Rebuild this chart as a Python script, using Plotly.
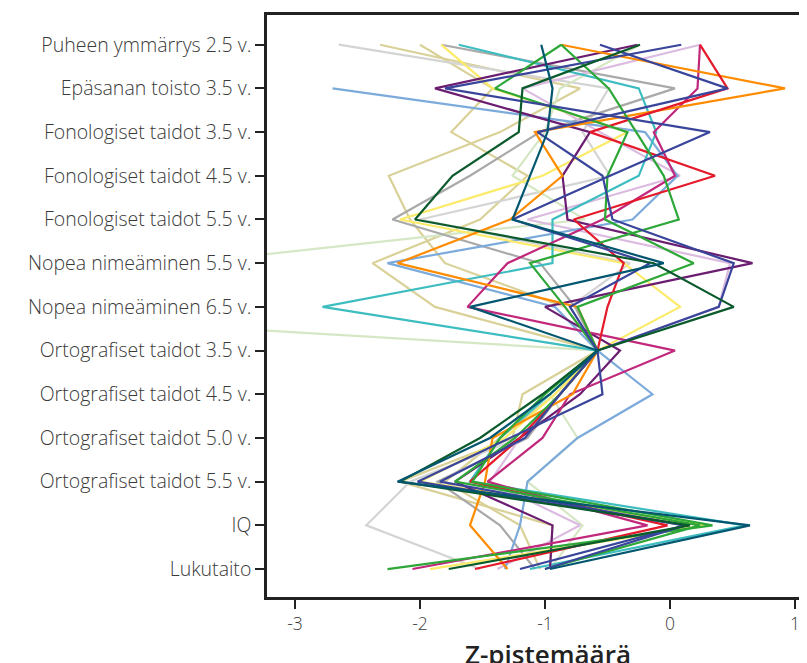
import plotly.graph_objects as go

categories = [
    "Puheen ymmärrys 2.5 v.", "Epäsanan toisto 3.5 v.", "Fonologiset taidot 3.5 v.",
    "Fonologiset taidot 4.5 v.", "Fonologiset taidot 5.5 v.", "Nopea nimeäminen 5.5 v.",
    "Nopea nimeäminen 6.5 v.", "Ortografiset taidot 3.5 v.", "Ortografiset taidot 4.5 v.",
    "Ortografiset taidot 5.0 v.", "Ortografiset taidot 5.5 v.", "IQ", "Lukutaito",
]
x_ticks = [-3, -2, -1, 0, 1]

khaki_1 = [-2.32, -0.72, -1.36, -2.25, -2.08, -1.80, -0.84, -0.58, -1.18, -1.26, -2.16, -0.94, -0.96]
khaki_2 = [-2.00, -1.42, -1.75, -1.14, -1.52, -2.38, -1.88, -0.58, -0.92, -1.36, -1.80, -1.20, -1.04]
light_grey = [-2.65, -0.49, -0.70, -0.48, -2.00, -0.32, -0.80, -0.58, -0.88, -1.20, -2.08, -2.43, -1.52]
light_green = [-0.24, -0.88, -1.00, -1.26, -0.68, -3.88, -6.40, -0.56, -0.96, -0.74, -1.14, -0.70, -0.96]
grey = [-1.83, 0.04, -1.04, -1.60, -2.22, -1.04, -0.76, -0.58, -0.88, -1.14, -1.86, -1.36, -1.08]
lilac = [0.24, -1.18, -0.56, 0.08, -1.14, 0.48, 0.39, -0.58, -0.88, -1.20, -1.44, -0.72, -1.38]
light_blue = [None, -2.70, -0.20, 0.06, -0.30, -2.26, -0.92, -0.58, -0.14, -0.74, -1.14, -1.20, -1.32]
yellow = [-1.83, -1.42, -0.34, -1.02, -2.16, -0.37, 0.08, -0.58, -0.92, -1.32, -2.00, 0.28, -1.92]
cyan = [-1.69, -0.25, -0.11, -0.25, -0.94, -0.94, -2.78, -0.58, -0.96, -1.36, -1.60, 0.60, -1.12]
purple = [-0.26, -1.88, -0.64, -0.86, -0.82, 0.66, -1.00, -0.40, -0.72, -1.20, -1.72, -0.94, -0.96]
magenta = [0.24, 0.22, -0.13, 0.04, -0.54, -1.30, -1.62, 0.04, -0.80, -1.02, -1.46, -0.18, -2.06]
orange = [-0.87, 0.92, -1.08, -0.86, -1.28, -2.18, -0.74, -0.58, -0.78, -1.42, -1.48, -1.60, -1.30]
red = [0.24, 0.46, -0.64, 0.36, -0.77, -0.37, -0.50, -0.58, -0.88, -1.20, -1.60, -0.02, -1.56]
green_a = [-0.87, -0.49, -0.27, -0.05, 0.07, -1.12, -0.84, -0.58, -1.00, -1.36, -1.58, 0.34, -2.26]
green_b = [-0.87, -1.40, -0.34, -0.50, -0.52, 0.19, -0.74, -0.58, -0.88, -1.24, -1.72, 0.24, -1.00]
dark_blue_a = [-0.56, 0.46, -1.06, -0.54, -0.46, 0.51, 0.39, -0.58, -0.88, -1.16, -1.84, 0.12, -1.20]
dark_blue_b = [0.09, -1.80, 0.32, -0.48, -1.26, -0.16, -0.80, -0.58, -0.54, -1.28, -2.02, 0.12, -1.00]
dark_green = [-0.24, -1.18, -1.21, -1.74, -2.04, -0.13, 0.51, -0.58, -1.02, -1.52, -2.16, 0.16, -1.77]
dark_teal = [-1.03, -0.94, -0.98, -1.12, -1.26, -0.05, -1.60, -0.58, -0.96, -1.44, -2.18, 0.64, -0.96]

series = [
    (khaki_1, "#D9D198"), (khaki_2, "#D9D198"), (light_grey, "#D4D4D4"),
    (light_green, "#D6E7C5"), (grey, "#A9A9A9"), (lilac, "#DBBBE0"),
    (light_blue, "#7BAADB"), (yellow, "#FCEB6A"), (cyan, "#3DBDC0"),
    (purple, "#6B1D71"), (magenta, "#C1287C"), (orange, "#FF8C00"),
    (red, "#E4192A"), (green_a, "#2DA737"), (green_b, "#2DA737"),
    (dark_blue_a, "#39449B"), (dark_blue_b, "#39449B"),
    (dark_green, "#0A5A2C"), (dark_teal, "#03566F"),
]

fig = go.Figure()
for vals, col in series:
    fig.add_trace(go.Scatter(
        x=vals, y=categories, mode="lines",
        line=dict(color=col, width=2.2), connectgaps=False,
        showlegend=False, hoverinfo="skip",
    ))

font_family = "Open Sans"
y_tick_font = dict(family=font_family, size=19.5, color="#3a3a3a", weight=300)
x_tick_font = dict(family=font_family, size=17.5, color="#3a3a3a", weight=300)
fig.update_layout(
    width=807, height=663,
    margin=dict(l=259, r=8, t=4, b=74),
    paper_bgcolor="white", plot_bgcolor="white",
    font=y_tick_font,
    xaxis=dict(
        range=[-3.224, 1.096], tickvals=x_ticks,
        ticktext=[str(v) for v in x_ticks],
        showgrid=False, zeroline=False,
        showline=True, linecolor="#222222", linewidth=2.5, mirror=True,
        ticks="outside", ticklen=9, tickwidth=2, tickcolor="#222222",
        tickfont=x_tick_font,
    ),
    yaxis=dict(
        type="category", categoryorder="array", categoryarray=categories,
        range=[12.64, -0.68],
        showgrid=False, zeroline=False,
        showline=True, linecolor="#222222", linewidth=2.5, mirror=False,
        ticks="outside", ticklen=9, tickwidth=2, tickcolor="#222222",
        tickfont=y_tick_font,
    ),
    annotations=[dict(
        text="Z-pistemäärä", xref="paper", yref="paper",
        x=0.52, y=-0.063, xanchor="center", yanchor="top", showarrow=False,
        font=dict(family=font_family, size=26, color="#222222", weight=600),
    )],
)

fig.write_html("out.html")
